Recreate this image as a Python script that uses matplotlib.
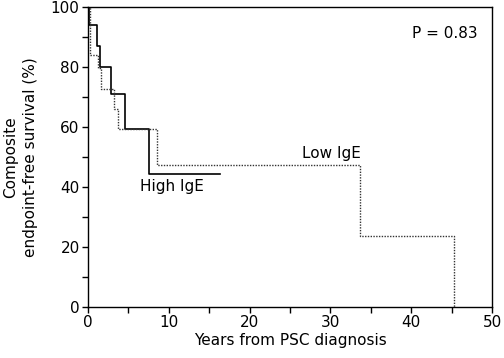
import matplotlib
matplotlib.use("Agg")
import matplotlib.pyplot as plt
from matplotlib.ticker import MultipleLocator

# Kaplan-Meier step data (years, survival %)
high_t = [0, 0.15, 1.15, 1.5, 2.9, 4.6, 7.6, 16.3]
high_s = [100, 94, 87, 80, 71, 59.3, 44.3, 44.3]

low_t = [0, 0.2, 1.27, 1.57, 3.25, 3.7, 8.6, 33.7, 45.3]
low_s = [100, 84, 79.6, 72.6, 66, 59.3, 47.3, 23.5, 0]

x_ticks = [0, 10, 20, 30, 40, 50]
y_ticks = [0, 20, 40, 60, 80, 100]


def generate_plot():
    plt.rcParams["font.family"] = ["DejaVu Sans"]

    fig = plt.figure(figsize=(5.04, 3.58), dpi=100)
    ax = fig.add_axes([0.1746, 0.1425, 0.8016, 0.838])

    ax.step(high_t, high_s, where="post", color="black", linewidth=1.2)
    ax.step(low_t, low_s, where="post", color="#333333", linewidth=1.0,
            linestyle=(0, (1, 1)))

    ax.set_xlim(0, 50)
    ax.set_ylim(0, 100)
    ax.set_xticks(x_ticks)
    ax.set_yticks(y_ticks)
    ax.xaxis.set_minor_locator(MultipleLocator(5))
    ax.yaxis.set_minor_locator(MultipleLocator(10))
    ax.tick_params(which="both", direction="out", length=4, width=1,
                   labelsize=11)
    ax.tick_params(which="major", pad=2)

    for sp in ax.spines.values():
        sp.set_linewidth(1)

    ax.set_xlabel("Years from PSC diagnosis", fontsize=11, labelpad=2)
    ax.set_ylabel("Composite\nendpoint-free survival (%)", fontsize=11,
                  labelpad=9, linespacing=1.45)

    ax.text(10.4, 40.3, "High IgE", fontsize=11, ha="center", va="center")
    ax.text(30.1, 51.3, "Low IgE", fontsize=11, ha="center", va="center")
    ax.text(44.2, 91.3, "P = 0.83", fontsize=11, ha="center", va="center")

    fig.savefig("out.png", dpi=100)
    plt.close(fig)


if __name__ == "__main__":
    generate_plot()
